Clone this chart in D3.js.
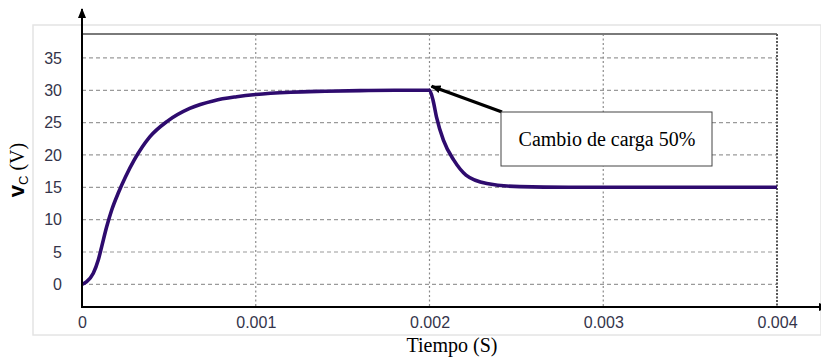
<!DOCTYPE html>
<meta charset="utf-8">
<head>
<script src="https://d3js.org/d3.v7.min.js"></script>
<style>
  body { margin: 0; background: #fff; }
  svg { display: block; }
</style>
</head>
<body>
<svg id="chart" width="821" height="358"></svg>
<script>
// capacitor voltage
var time = [0, 0.000027, 0.000065, 0.000094, 0.000113, 0.000142, 0.000171, 0.00021, 0.00025, 0.0003, 0.00039, 0.00049,
            0.00062, 0.00076, 0.00089, 0.001, 0.0012, 0.0014, 0.0016, 0.0018, 0.002,
            0.00202, 0.00204, 0.00208, 0.00214, 0.00221, 0.00233, 0.00252, 0.0028, 0.0032, 0.0036, 0.004];
var vc = [0, 0.43, 1.73, 3.8, 5.8, 8.9, 11.5, 14.2, 16.6, 19.2, 22.8, 25.2,
          27.2, 28.4, 29.0, 29.35, 29.7, 29.85, 29.95, 30.0, 30.0,
          28.5, 25.9, 22.3, 19.2, 16.9, 15.6, 15.1, 15.0, 15.0, 15.0, 15.0];
var yTicks = [0, 5, 10, 15, 20, 25, 30, 35];
var xTicks = [0, 0.001, 0.002, 0.003, 0.004];
var note = "Cambio de carga 50%";
var noteAt = [0.002, 30];

var svg = d3.select("#chart");

var pLeft = 82, pRight = 777, pTop = 34, pBottom = 307;

var x = d3.scaleLinear().domain([0, 0.004]).range([pLeft, pRight]);
var y = d3.scaleLinear().domain([-3.5, 38.7]).range([pBottom, pTop]);

// light frame round the whole chart
svg.append("rect")
  .attr("x", 33).attr("y", 25).attr("width", 788).attr("height", 310)
  .attr("fill", "none").attr("stroke", "#e4e4e4").attr("stroke-width", 1.5);

var defs = svg.append("defs");
defs.append("marker")
  .attr("id", "head").attr("viewBox", "0 0 10 10")
  .attr("refX", 9).attr("refY", 5)
  .attr("markerWidth", 10).attr("markerHeight", 10)
  .attr("markerUnits", "userSpaceOnUse")
  .attr("orient", "auto")
  .append("path").attr("d", "M0,1 L10,5 L0,9 Z").attr("fill", "#000");

// horizontal grid
svg.append("g")
  .selectAll("line").data(yTicks).enter().append("line")
  .attr("x1", pLeft).attr("x2", pRight)
  .attr("y1", function(d) { return y(d); })
  .attr("y2", function(d) { return y(d); })
  .attr("stroke", "#9a9a9a").attr("stroke-width", 1.2)
  .attr("stroke-dasharray", "4,3");

// vertical grid
svg.append("g")
  .selectAll("line").data(xTicks.slice(1, 4)).enter().append("line")
  .attr("x1", function(d) { return x(d); })
  .attr("x2", function(d) { return x(d); })
  .attr("y1", pTop).attr("y2", pBottom)
  .attr("stroke", "#8a8a8a").attr("stroke-width", 1.2)
  .attr("stroke-dasharray", "2,2.5");

// plot frame: top solid, right dashed
svg.append("line")
  .attr("x1", pLeft).attr("x2", pRight).attr("y1", pTop).attr("y2", pTop)
  .attr("stroke", "#7a7a7a").attr("stroke-width", 2);
svg.append("line")
  .attr("x1", pRight).attr("x2", pRight).attr("y1", pTop).attr("y2", pBottom)
  .attr("stroke", "#555").attr("stroke-width", 2)
  .attr("stroke-dasharray", "2,1.5");

// the curve
var line = d3.line()
  .x(function(d, i) { return x(time[i]); })
  .y(function(d) { return y(d); })
  .curve(d3.curveMonotoneX);

svg.append("path")
  .datum(vc)
  .attr("d", line)
  .attr("fill", "none")
  .attr("stroke", "#2e0b6e")
  .attr("stroke-width", 3.6)
  .attr("stroke-linejoin", "round");

// axes with arrows
svg.append("line")
  .attr("x1", pLeft).attr("x2", pLeft).attr("y1", pBottom + 1).attr("y2", 9)
  .attr("stroke", "#000").attr("stroke-width", 2)
  .attr("marker-end", "url(#head)");
svg.append("line")
  .attr("x1", pLeft - 1).attr("x2", 828).attr("y1", pBottom).attr("y2", pBottom)
  .attr("stroke", "#000").attr("stroke-width", 2)
  .attr("marker-end", "url(#head)");

// tick labels
var yAxis = svg.append("g")
  .attr("transform", "translate(" + (pLeft - 20) + ",0)")
  .call(d3.axisLeft(y).tickValues(yTicks).tickSize(0).tickPadding(0));
yAxis.select(".domain").remove();
yAxis.selectAll("text")
  .attr("font-family", "Liberation Sans, Arial, sans-serif")
  .attr("font-size", 16).attr("fill", "#34344a");

var xAxis = svg.append("g")
  .attr("transform", "translate(0," + (pBottom + 10) + ")")
  .call(d3.axisBottom(x).tickValues(xTicks).tickFormat(d3.format("~g")).tickSize(0).tickPadding(0));
xAxis.select(".domain").remove();
xAxis.selectAll("text")
  .attr("font-family", "Liberation Sans, Arial, sans-serif")
  .attr("font-size", 16).attr("fill", "#34344a");

// axis titles
svg.append("text")
  .attr("x", 452).attr("y", 352)
  .attr("text-anchor", "middle")
  .attr("font-family", "Liberation Serif, Times New Roman, serif")
  .attr("font-size", 20)
  .text("Tiempo (S)");

var yt = svg.append("text")
  .attr("transform", "translate(24,170) rotate(-90)")
  .attr("text-anchor", "middle")
  .attr("font-size", 20);
yt.append("tspan")
  .attr("font-family", "Liberation Sans, Arial, sans-serif")
  .attr("font-weight", "bold").attr("font-size", 22)
  .text("v");
yt.append("tspan")
  .attr("font-family", "Liberation Sans, Arial, sans-serif")
  .attr("font-size", 13).attr("dy", 4)
  .text("C");
yt.append("tspan")
  .attr("font-family", "Liberation Serif, Times New Roman, serif")
  .attr("dy", -4)
  .text(" (V)");

// annotation
svg.append("line")
  .attr("x1", 502).attr("y1", 112)
  .attr("x2", x(noteAt[0]) + 2).attr("y2", y(noteAt[1]) - 4)
  .attr("stroke", "#000").attr("stroke-width", 3.2)
  .attr("marker-end", "url(#head)");
svg.append("rect")
  .attr("x", 501).attr("y", 112).attr("width", 211).attr("height", 54)
  .attr("fill", "#fff").attr("stroke", "#444").attr("stroke-width", 1);
svg.append("text")
  .attr("x", 607).attr("y", 146)
  .attr("text-anchor", "middle")
  .attr("font-family", "Liberation Serif, Times New Roman, serif")
  .attr("font-size", 20)
  .text(note);
</script>
</body>
